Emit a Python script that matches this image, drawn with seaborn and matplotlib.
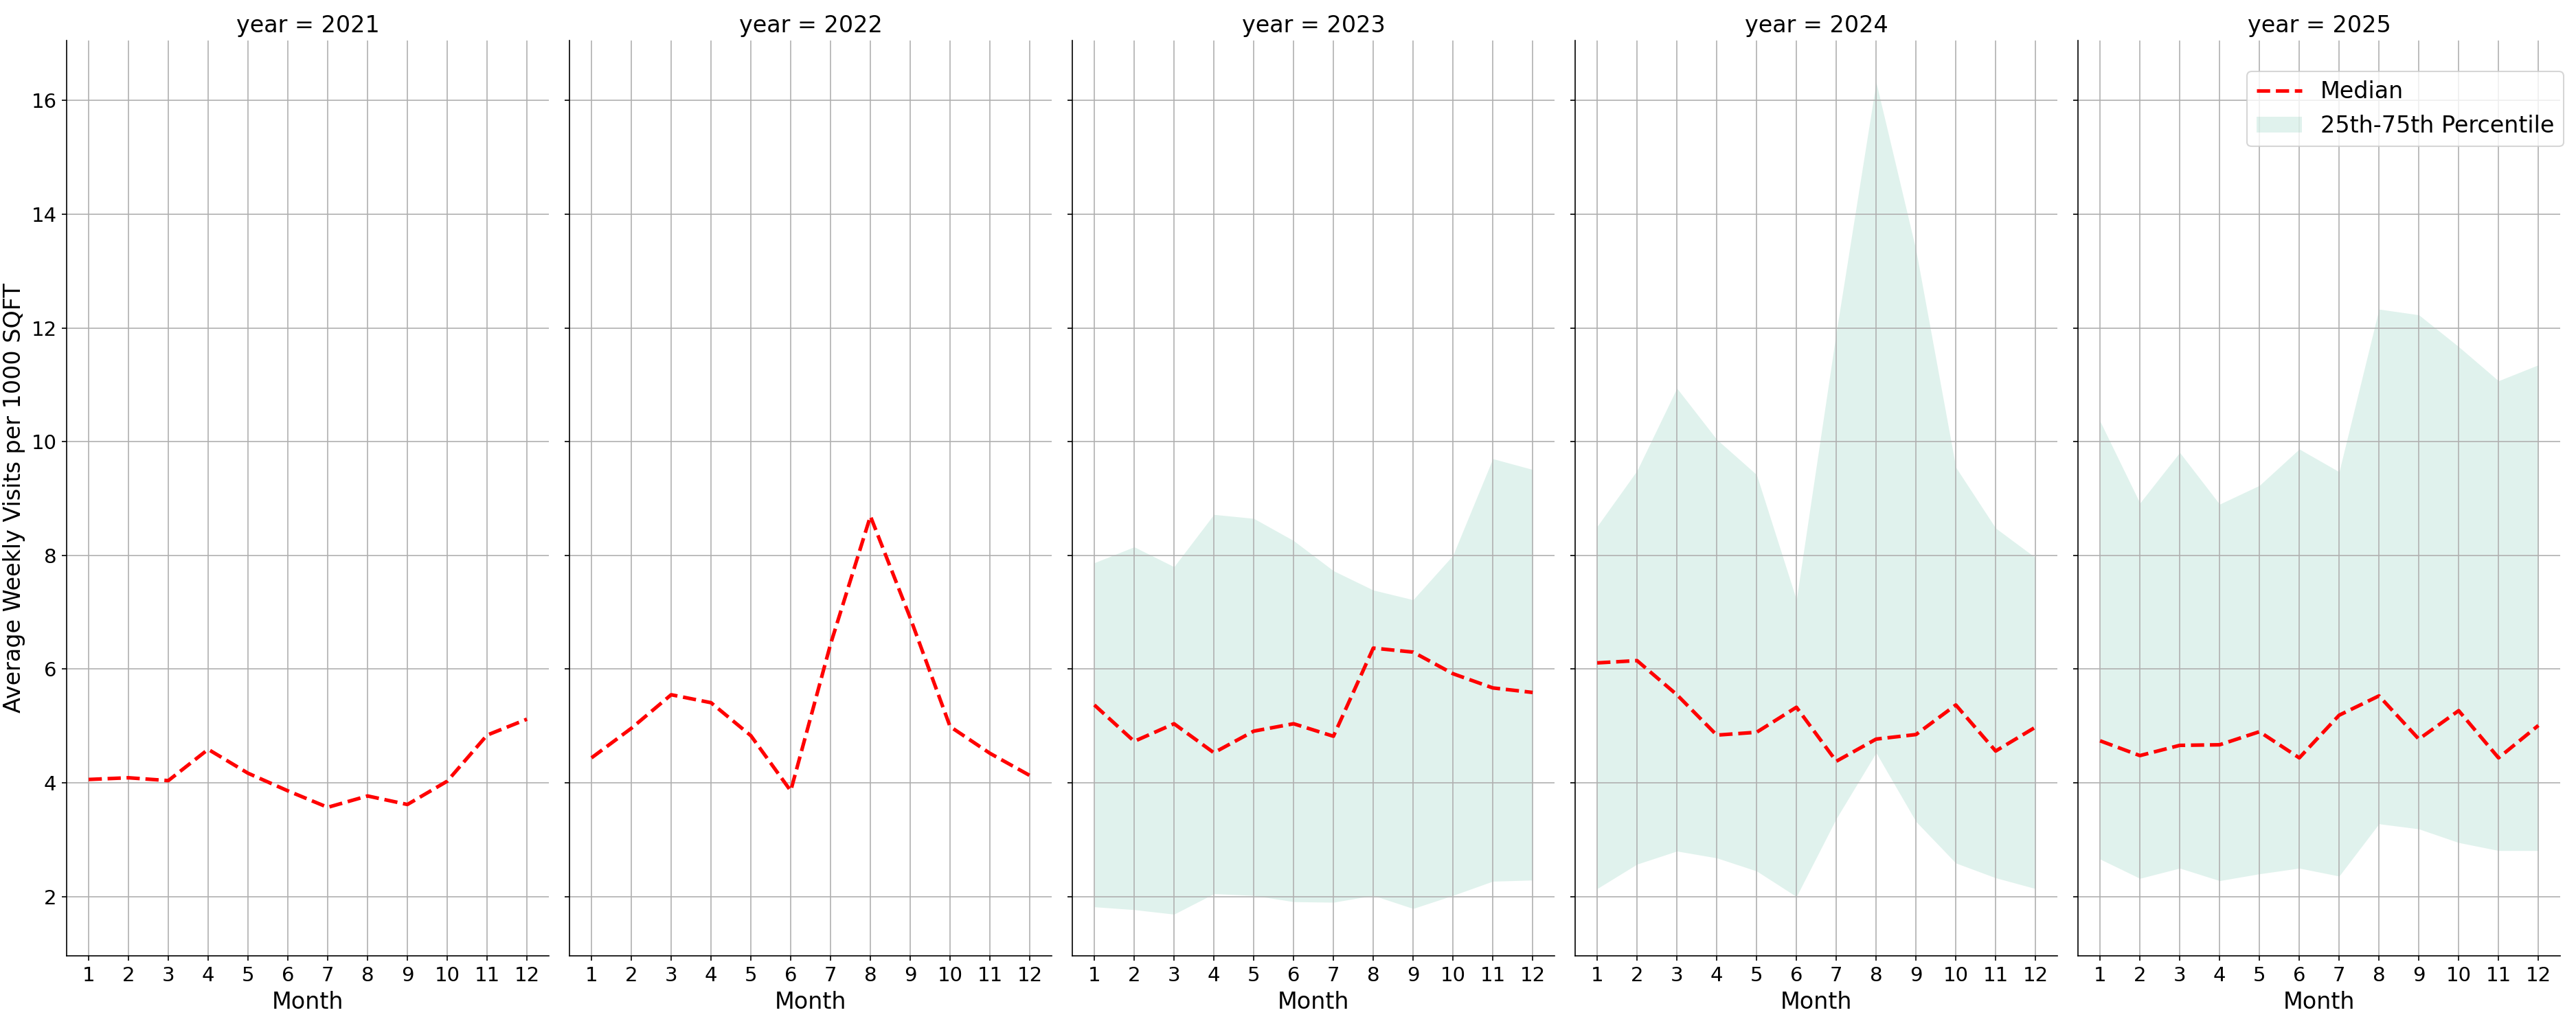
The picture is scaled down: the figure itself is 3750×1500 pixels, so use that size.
import numpy as np
import pandas as pd
import matplotlib
matplotlib.use("Agg")
import matplotlib.pyplot as plt
import seaborn as sns

# values
years = [2021, 2022, 2023, 2024, 2025]
months = list(range(1, 13))

median_2021 = [4.06, 4.09, 4.04, 4.59, 4.17, 3.86, 3.57, 3.77, 3.62, 4.03, 4.84, 5.12]
median_2022 = [4.44, 4.96, 5.55, 5.41, 4.83, 3.86, 6.44, 8.69, 6.90, 4.99, 4.52, 4.13]
median_2023 = [5.37, 4.73, 5.04, 4.53, 4.91, 5.04, 4.82, 6.37, 6.30, 5.92, 5.67, 5.59]
median_2024 = [6.11, 6.15, 5.55, 4.84, 4.89, 5.33, 4.38, 4.77, 4.85, 5.37, 4.56, 4.98]
median_2025 = [4.74, 4.48, 4.66, 4.67, 4.90, 4.44, 5.19, 5.53, 4.77, 5.27, 4.44, 5.01]

# 2021 and 2022 have no percentile band in the chart
q25_2023 = [1.82, 1.77, 1.69, 2.05, 2.02, 1.91, 1.90, 2.02, 1.79, 2.02, 2.27, 2.29]
q75_2023 = [7.87, 8.15, 7.80, 8.72, 8.65, 8.26, 7.73, 7.39, 7.22, 8.00, 9.70, 9.51]
q25_2024 = [2.14, 2.57, 2.80, 2.68, 2.45, 2.00, 3.37, 4.53, 3.32, 2.59, 2.33, 2.14]
q75_2024 = [8.51, 9.49, 10.94, 10.04, 9.42, 7.22, 11.92, 16.32, 13.37, 9.55, 8.48, 7.96]
q25_2025 = [2.66, 2.32, 2.50, 2.28, 2.40, 2.50, 2.36, 3.28, 3.19, 2.95, 2.81, 2.81]
q75_2025 = [10.36, 8.92, 9.81, 8.90, 9.23, 9.87, 9.47, 12.33, 12.23, 11.67, 11.07, 11.35]

no_band = [np.nan] * 12
medians = [median_2021, median_2022, median_2023, median_2024, median_2025]
lowers = [no_band, no_band, q25_2023, q25_2024, q25_2025]
uppers = [no_band, no_band, q75_2023, q75_2024, q75_2025]

frames = []
for yr, med, lo, hi in zip(years, medians, lowers, uppers):
    frames.append(pd.DataFrame({"year": yr, "month": months,
                                "median": med, "q25": lo, "q75": hi}))
df = pd.concat(frames, ignore_index=True)

plt.rcParams.update({
    "xtick.labelsize": 14,
    "ytick.labelsize": 14,
    "axes.labelsize": 16,
    "axes.titlesize": 14,
    "legend.fontsize": 16,
})

g = sns.FacetGrid(df, col="year", height=10, aspect=0.5, sharey=True)

for yr, ax in g.axes_dict.items():
    sub = df[df["year"] == yr]
    sns.lineplot(data=sub, x="month", y="median", ax=ax, color="red",
                 linestyle="--", linewidth=2.5, label="Median", legend=False)
    ax.fill_between(sub["month"], sub["q25"], sub["q75"], color="#66c2a5",
                    alpha=0.2, linewidth=0, label="25th-75th Percentile")
    ax.set_xticks(months)
    ax.grid(True)

g.set_titles("year = {col_name}")
g.set_axis_labels("Month", "Average Weekly Visits per 1000 SQFT")

last_ax = g.axes.flat[-1]
last_ax.legend(loc="upper right", bbox_to_anchor=(1.0064, 0.9665), borderaxespad=0)

g.figure.subplots_adjust(left=0.0259, right=0.9939, bottom=0.072, top=0.9605, wspace=0.043)
g.figure.savefig("out.png", dpi=150)
